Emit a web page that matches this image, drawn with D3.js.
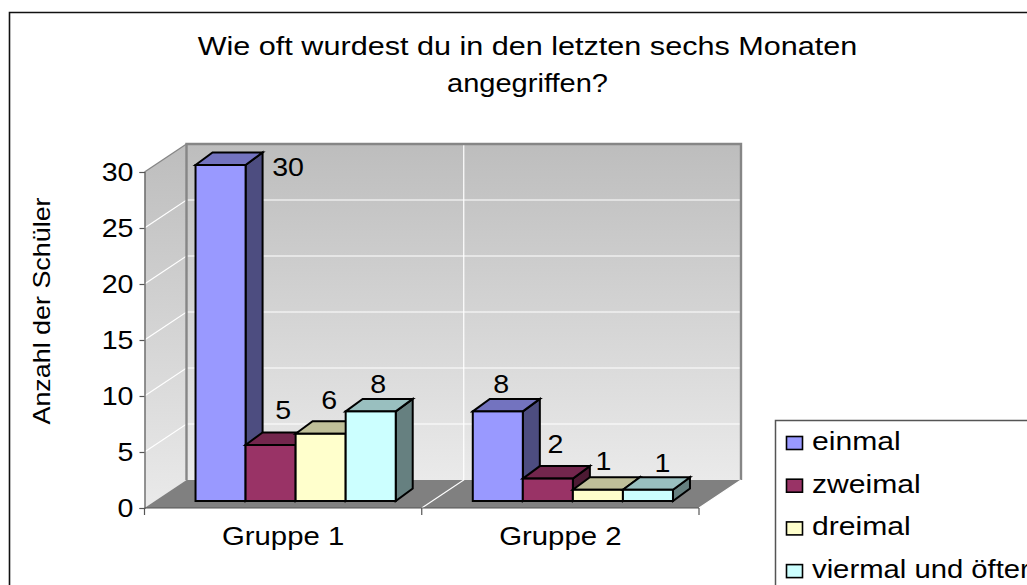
<!DOCTYPE html>
<html><head><meta charset="utf-8">
<script src="https://cdn.jsdelivr.net/npm/d3@7"></script>
<style>html,body{margin:0;padding:0;background:#fff;overflow:hidden}svg{display:block}text{font-family:"Liberation Sans",Arial,sans-serif;fill:#000}</style>
</head><body><svg id="c" width="1027" height="585"></svg>
<script>
const titleLines = ["Wie oft wurdest du in den letzten sechs Monaten", "angegriffen?"];
const yTitle = "Anzahl der Schüler";
const groups = ["Gruppe 1", "Gruppe 2"];
const seriesNames = ["einmal", "zweimal", "dreimal", "viermal und öfter"];
const einmal = [30, 8];
const zweimal = [5, 2];
const dreimal = [6, 1];
const viermal = [8, 1];
const seriesValues = [einmal, zweimal, dreimal, viermal];
const yTicks = [0, 5, 10, 15, 20, 25, 30];
const frontColors = ["#9999FF", "#993366", "#FFFFCC", "#CCFFFF"];
const topColors = ["#7373BF", "#73264D", "#BFBF99", "#99BFBF"];
const sideColors = ["#4D4D80", "#4D1A33", "#808066", "#668080"];
// label nudges by series then group, relative to the default spot above each bar
const labelDx = [[59, -5], [4, -1], [0, -3], [-1, 6]];
const labelDy = [[-2, 0], [-8, -7], [-6, -1], [0, 1]];
const legendStretch = [1.158, 1.158, 1.158, 1.125];

const svg = d3.select("#c");
const stretch = (sel, f) => sel.each(function () {
  const len = this.getComputedTextLength();
  d3.select(this).attr("textLength", len * f).attr("lengthAdjust", "spacingAndGlyphs");
});
const depth = {x: 42, y: -28};
const y = d3.scaleLinear().domain([0, 30]).range([508, 172]);
const x0 = d3.scaleBand().domain(groups).range([144.5, 699]);
const x1 = d3.scaleBand().domain(d3.range(4)).range([0, x0.bandwidth()]).paddingInner(0).paddingOuter(0.77);
const barShift = {x: 12.5, y: -7};
const barDepth = {x: 17, y: -12.5};

const defs = svg.append("defs");
const g = defs.append("linearGradient").attr("id", "wall").attr("x1", 0).attr("x2", 0).attr("y1", 0).attr("y2", 1);
g.append("stop").attr("offset", 0).attr("stop-color", "#BDBDBD");
g.append("stop").attr("offset", 1).attr("stop-color", "#EAEAEA");

// outer frame
svg.append("path").attr("d", "M9.5,585V12.5H1027").attr("fill", "none").attr("stroke", "#111").attr("stroke-width", 1.6);

// title
svg.selectAll(".title").data(titleLines).enter().append("text").attr("class", "title")
  .attr("x", 527.5).attr("y", (d, i) => 55 + i * 37).attr("text-anchor", "middle")
  .attr("font-size", 26.5).text(d => d)
  .call(stretch, 1.154);
d3.selectAll(".title").filter((d, i) => i === 1).attr("textLength", 161);

const line = d3.line();
const xL = x0.range()[0], xR = x0.range()[1], yB = y(0), yT = y(30);
svg.append("path").attr("d", line([[xL, yB], [xL + depth.x, yB + depth.y], [xL + depth.x, yT + depth.y], [xL, yT]]) + "Z").attr("fill", "url(#wall)");
svg.append("rect").attr("x", xL + depth.x).attr("y", yT + depth.y).attr("width", xR - xL).attr("height", yB - yT).attr("fill", "url(#wall)");
svg.append("path").attr("d", line([[xL, yB], [xL + depth.x, yB + depth.y], [xR + depth.x, yB + depth.y], [xR, yB]]) + "Z").attr("fill", "#808080");

// gridlines
yTicks.filter(t => t > 0 && t < 30).forEach(t => {
  svg.append("path").attr("d", line([[xL, y(t)], [xL + depth.x, y(t) + depth.y], [xR + depth.x, y(t) + depth.y]])).attr("fill", "none").attr("stroke", "#fff").attr("stroke-width", 1.2);
});
const xMid = x0("Gruppe 2");
svg.append("path").attr("d", line([[xMid, yB], [xMid + depth.x, yB + depth.y], [xMid + depth.x, yT + depth.y]])).attr("fill", "none").attr("stroke", "#fff").attr("stroke-width", 1.2);

// wall borders
svg.append("path").attr("d", line([[xL + depth.x, yB + depth.y], [xL + depth.x, yT + depth.y], [xR + depth.x, yT + depth.y], [xR + depth.x, yB + depth.y]])).attr("fill", "none").attr("stroke", "#868686").attr("stroke-width", 2.4);
svg.append("path").attr("d", line([[xL, yT], [xL + depth.x, yT + depth.y]])).attr("fill", "none").attr("stroke", "#868686").attr("stroke-width", 1.4);
svg.append("path").attr("d", line([[xR, yB], [xR + depth.x, yB + depth.y]])).attr("fill", "none").attr("stroke", "#fff").attr("stroke-width", 1.2);

// axes
const yAxis = d3.axisLeft(y).tickValues(yTicks).tickSize(5).tickPadding(6).tickFormat(d3.format("d"));
const ya = svg.append("g").attr("transform", `translate(${xL},0)`).call(yAxis);
ya.selectAll("path,line").attr("stroke", "#555").attr("stroke-width", 1.2);
ya.selectAll("text").attr("font-size", 26).attr("font-family", '"Liberation Sans"').attr("fill", "#000").call(stretch, 1.1);
const xTicks = [...groups.map(d => x0(d)), xR];
const xAxisLine = svg.append("g");
xAxisLine.append("path").attr("d", line([[xL, yB], [xR, yB]])).attr("stroke", "#555").attr("stroke-width", 1.2);
xAxisLine.selectAll("line").data(xTicks).enter().append("line").attr("x1", d => d).attr("x2", d => d).attr("y1", yB).attr("y2", yB + 7).attr("stroke", "#555").attr("stroke-width", 1.2);
svg.selectAll(".cat").data(groups).enter().append("text").attr("class", "cat")
  .attr("x", d => x0(d) + x0.bandwidth() / 2).attr("y", 545).attr("text-anchor", "middle").attr("font-size", 25.5).text(d => d)
  .call(stretch, 1.15);

// y title
svg.append("text").attr("transform", "translate(50,311) rotate(-90)").attr("text-anchor", "middle").attr("font-size", 24).text(yTitle).call(stretch, 1.12);

// bars
groups.forEach((gr, gi) => {
  seriesValues.forEach((vals, si) => {
    const v = vals[gi];
    const bx = x0(gr) + x1(si) + barShift.x, bw = x1.bandwidth();
    const by = y(v) + barShift.y, bb = y(0) + barShift.y;
    const bar = svg.append("g").attr("stroke", "#000").attr("stroke-width", 2);
    bar.append("path").attr("fill", sideColors[si]).attr("d", line([[bx + bw, by], [bx + bw + barDepth.x, by + barDepth.y], [bx + bw + barDepth.x, bb + barDepth.y], [bx + bw, bb]]) + "Z");
    bar.append("path").attr("fill", topColors[si]).attr("d", line([[bx, by], [bx + barDepth.x, by + barDepth.y], [bx + bw + barDepth.x, by + barDepth.y], [bx + bw, by]]) + "Z");
    bar.append("rect").attr("fill", frontColors[si]).attr("x", bx).attr("y", by).attr("width", bw).attr("height", bb - by);
  });
});
// data labels
groups.forEach((gr, gi) => {
  seriesValues.forEach((vals, si) => {
    const v = vals[gi];
    const top = y(v) + barShift.y + barDepth.y;
    const cx = x0(gr) + x1(si) + barShift.x + x1.bandwidth() / 2 + barDepth.x / 2 + labelDx[si][gi];
    svg.append("text").attr("x", cx).attr("y", (v === 30 ? top + 25 : top - 6) + labelDy[si][gi])
      .attr("text-anchor", "middle").attr("font-size", 26).text(v).call(stretch, 1.1);
  });
});

// legend
svg.append("rect").attr("x", 775.5).attr("y", 420.5).attr("width", 300).attr("height", 250).attr("fill", "#fff").attr("stroke", "#555").attr("stroke-width", 1.5);
seriesNames.forEach((n, i) => {
  const ly = 443 + i * 42.7;
  svg.append("rect").attr("x", 786.5).attr("y", ly - 6.5).attr("width", 16).attr("height", 13).attr("fill", frontColors[i]).attr("stroke", "#000").attr("stroke-width", 1.6);
  svg.append("text").attr("x", 812).attr("y", ly + 7).attr("font-size", 26).text(n).call(stretch, legendStretch[i]);
});
</script></body></html>
